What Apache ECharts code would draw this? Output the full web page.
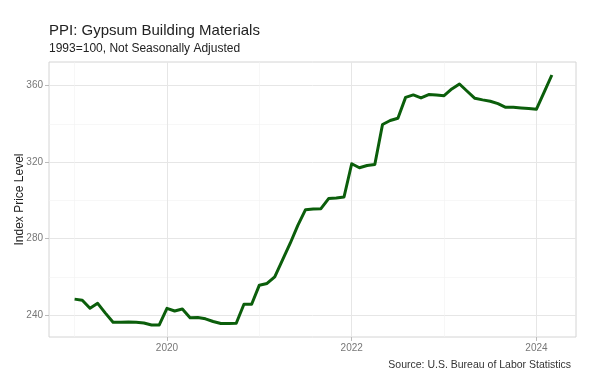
<!DOCTYPE html>
<html>
<head>
<meta charset="utf-8">
<script src="https://cdn.jsdelivr.net/npm/echarts@6/dist/echarts.min.js"></script>
<style>html,body{margin:0;padding:0;background:#fff}#c{width:600px;height:380px}</style>
</head>
<body>
<div id="c"></div>
<script>
const months = ['2019-01','2019-02','2019-03','2019-04','2019-05','2019-06','2019-07','2019-08','2019-09','2019-10','2019-11','2019-12',
'2020-01','2020-02','2020-03','2020-04','2020-05','2020-06','2020-07','2020-08','2020-09','2020-10','2020-11','2020-12',
'2021-01','2021-02','2021-03','2021-04','2021-05','2021-06','2021-07','2021-08','2021-09','2021-10','2021-11','2021-12',
'2022-01','2022-02','2022-03','2022-04','2022-05','2022-06','2022-07','2022-08','2022-09','2022-10','2022-11','2022-12',
'2023-01','2023-02','2023-03','2023-04','2023-05','2023-06','2023-07','2023-08','2023-09','2023-10','2023-11','2023-12',
'2024-01','2024-02','2024-03'];
const ppi = [248.3,247.7,243.5,246.1,241.0,236.2,236.2,236.3,236.2,235.8,234.8,234.8,
243.5,242.1,243.1,238.6,238.7,238.0,236.6,235.6,235.6,235.7,245.6,245.6,
255.6,256.5,260.0,268.7,277.4,286.9,295.1,295.4,295.6,300.9,301.2,301.7,
319.1,317.0,318.2,318.7,339.6,341.7,342.9,353.8,355.1,353.5,355.3,355.0,
354.7,358.2,360.8,357.0,353.3,352.5,351.8,350.5,348.6,348.6,348.3,348.0,
347.6,356.5,365.5];
const xMajor = [2020, 2022, 2024];
const xMinor = [2019, 2021, 2023];
const yMajor = [240, 280, 320, 360];
const yMinor = [260, 300, 340];
const xMin = 2018.723, xMax = 2024.428, yMin = 228.5, yMax = 372.3;

const data = months.map((m, i) => {
  const [y, mo] = m.split('-').map(Number);
  return [y + (mo - 1) / 12, ppi[i]];
});
const FONT = '"Liberation Sans", Arial, sans-serif';
const chart = echarts.init(document.getElementById('c'), null, {renderer: 'canvas'});
chart.setOption({
  animation: false,
  backgroundColor: '#fff',
  textStyle: {fontFamily: FONT},
  title: [
    {text: 'PPI: Gypsum Building Materials', subtext: '1993=100, Not Seasonally Adjusted',
     left: 44, top: 18, itemGap: 5,
     textStyle: {fontFamily: FONT, fontSize: 15, fontWeight: 'normal', color: '#222'},
     subtextStyle: {fontFamily: FONT, fontSize: 12, color: '#222'}},
    {text: 'Source: U.S. Bureau of Labor Statistics', right: 24, top: 355,
     textStyle: {fontFamily: FONT, fontSize: 10.5, fontWeight: 'normal', color: '#333'}}
  ],
  grid: {left: 49, right: 24, top: 62, bottom: 43, show: true, borderColor: '#d4d4d4', borderWidth: 1,
         backgroundColor: 'transparent', outerBoundsMode: 'none', containLabel: false},
  xAxis: [
    {type: 'value', min: xMin, max: xMax,
     axisLine: {show: false},
     axisTick: {show: true, length: 4, customValues: xMajor, lineStyle: {color: '#bbb'}},
     axisLabel: {customValues: xMajor, margin: 6, fontSize: 10, color: '#777', fontFamily: FONT,
                 formatter: v => String(Math.round(v))},
     splitLine: {show: true, lineStyle: {color: '#e6e6e6', width: 1}}},
    {type: 'value', min: xMin, max: xMax, position: 'bottom',
     axisLine: {show: false}, axisTick: {show: false, customValues: xMinor},
     axisLabel: {show: false, customValues: xMinor},
     splitLine: {show: true, lineStyle: {color: '#f1f1f1', width: 0.6}}}
  ],
  yAxis: [
    {type: 'value', min: yMin, max: yMax,
     name: 'Index Price Level', nameLocation: 'middle', nameGap: 23, nameMoveOverlap: false,
     nameTextStyle: {fontSize: 12, color: '#222', fontFamily: FONT},
     axisLine: {show: false},
     axisTick: {show: true, length: 4, customValues: yMajor, lineStyle: {color: '#bbb'}},
     axisLabel: {customValues: yMajor, margin: 6, fontSize: 10, color: '#777', fontFamily: FONT},
     splitLine: {show: true, lineStyle: {color: '#e6e6e6', width: 1}}},
    {type: 'value', min: yMin, max: yMax, position: 'left',
     axisLine: {show: false}, axisTick: {show: false, customValues: yMinor},
     axisLabel: {show: false, customValues: yMinor},
     splitLine: {show: true, lineStyle: {color: '#f1f1f1', width: 0.6}}}
  ],
  series: [{
    type: 'line', data: data, xAxisIndex: 0, yAxisIndex: 0,
    showSymbol: false, symbol: 'none', z: 10,
    lineStyle: {color: '#0b5e0b', width: 3, join: 'round'}
  }]
});
</script>
</body>
</html>
